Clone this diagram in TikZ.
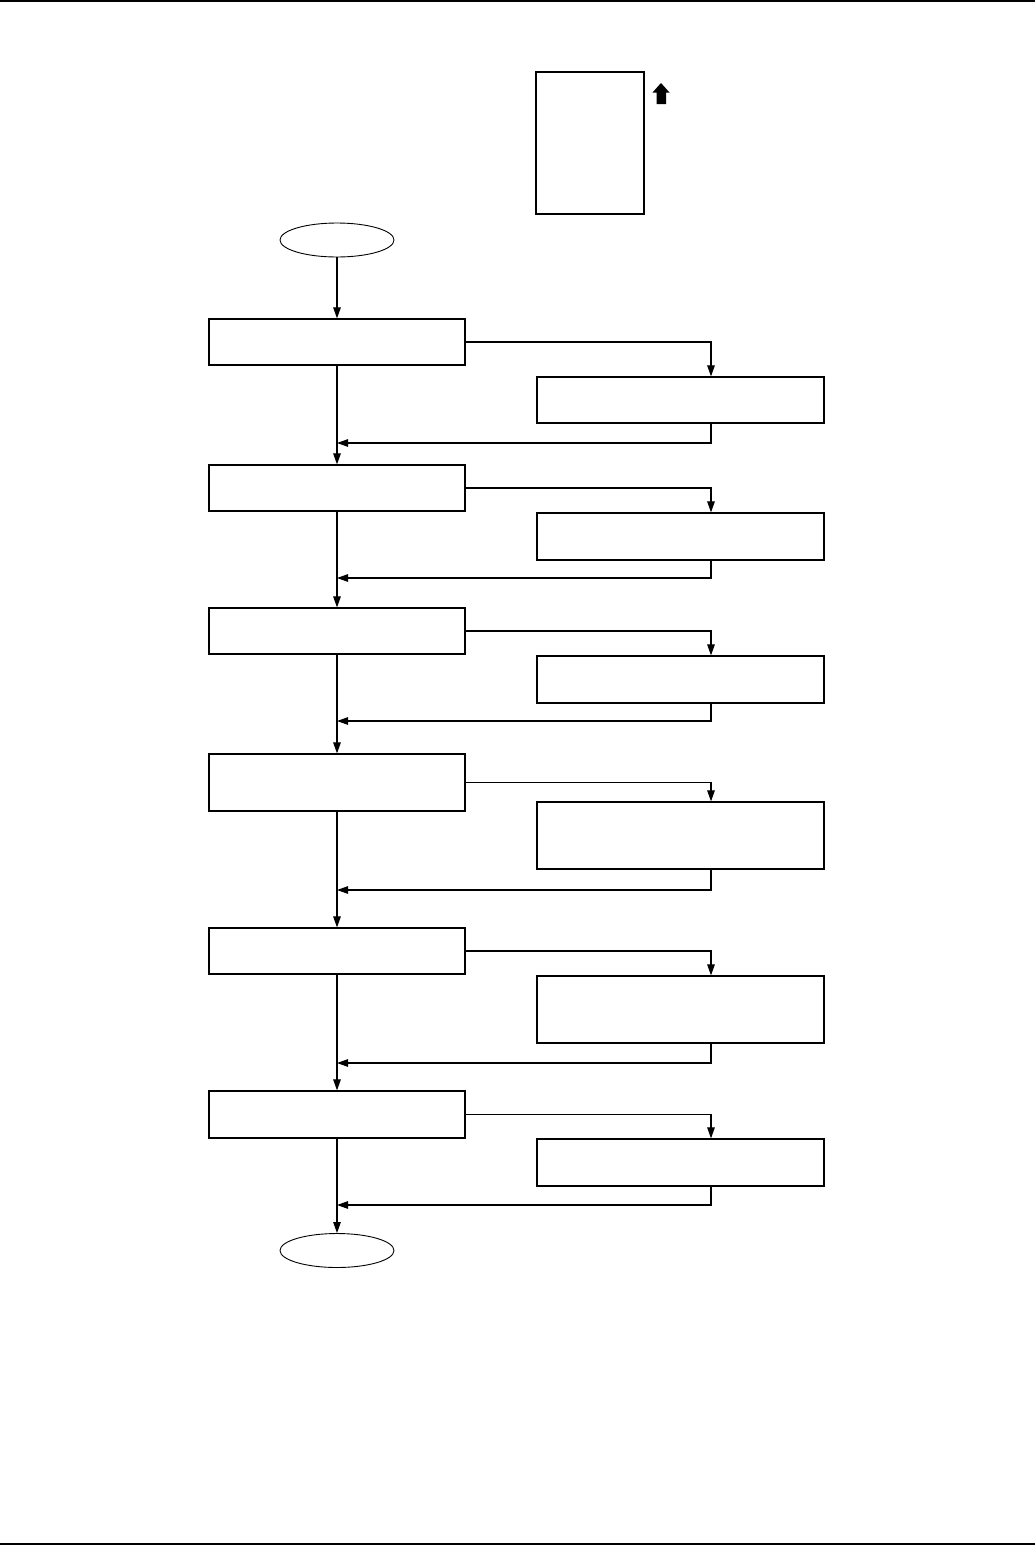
\documentclass[tikz,border=0pt]{standalone}
\usetikzlibrary{arrows.meta,shapes.geometric,calc}
\begin{document}
\begin{tikzpicture}[x=1pt,y=-1pt,
  every path/.style={line width=1.1pt},
  lbox/.style={draw,line width=1.2pt,minimum width=256pt,inner sep=0pt},
  rbox/.style={draw,line width=1.2pt,minimum width=287pt,inner sep=0pt},
  term/.style={draw,ellipse,line width=0.9pt,minimum width=114pt,minimum height=34pt,inner sep=0pt},
  arr/.style={-{Triangle[length=11pt,width=7.5pt]}}]
\useasboundingbox (0,0) rectangle (1035,1545);
% page rules
\draw[line width=1.6pt] (0,1) coordinate (tl) -- (1035,1) coordinate (tr);
\draw[line width=1.6pt] (0,1544) coordinate (bl) -- (1035,1544) coordinate (br);
% top rectangle and block arrow
\node[draw,line width=1.2pt,minimum width=108pt,minimum height=142pt,inner sep=0pt] (legend) at (590,143) {};
\fill (661,83) coordinate (ah) -- (669.5,92.5) -- (666,92.5) -- (666,104) -- (656.5,104) -- (656.5,92.5) -- (652.5,92.5) -- cycle;
% main column
\node[term] (start) at (337,240) {};
\node[lbox,minimum height=46pt] (b1) at (337,342) {};
\node[lbox,minimum height=46pt] (b2) at (337,488) {};
\node[lbox,minimum height=46pt] (b3) at (337,631) {};
\node[lbox,minimum height=57pt] (b4) at (337,782.5) {};
\node[lbox,minimum height=46pt] (b5) at (337,951) {};
\node[lbox,minimum height=47pt] (b6) at (337,1114.5) {};
\node[term] (end) at (337,1250.5) {};
% right column
\node[rbox,minimum height=46pt] (r1) at (680.5,400) {};
\node[rbox,minimum height=47pt] (r2) at (680.5,536.5) {};
\node[rbox,minimum height=47pt] (r3) at (680.5,679.5) {};
\node[rbox,minimum height=67pt] (r4) at (680.5,835.5) {};
\node[rbox,minimum height=67pt] (r5) at (680.5,1009.5) {};
\node[rbox,minimum height=47pt] (r6) at (680.5,1162.5) {};
% helper coordinates
\coordinate (tx) at (711,0);
\coordinate (j1) at (337,443);
\coordinate (j2) at (337,578);
\coordinate (j3) at (337,721);
\coordinate (j4) at (337,890);
\coordinate (j5) at (337,1063);
\coordinate (j6) at (337,1205);
% vertical flow
\draw[arr] (start) -- (b1);
\draw[arr] (b1) -- (b2);
\draw[arr] (b2) -- (b3);
\draw[arr] (b3) -- (b4);
\draw[arr] (b4) -- (b5);
\draw[arr] (b5) -- (b6);
\draw[arr] (b6) -- (end);
% branches out
\foreach \i in {1,...,6}{
  \draw[arr] (b\i.east) -| (r\i.north -| tx);
}
% returns
\foreach \i in {1,...,6}{
  \draw[arr] (r\i.south -| tx) |- (j\i);
}
\end{tikzpicture}
\end{document}
